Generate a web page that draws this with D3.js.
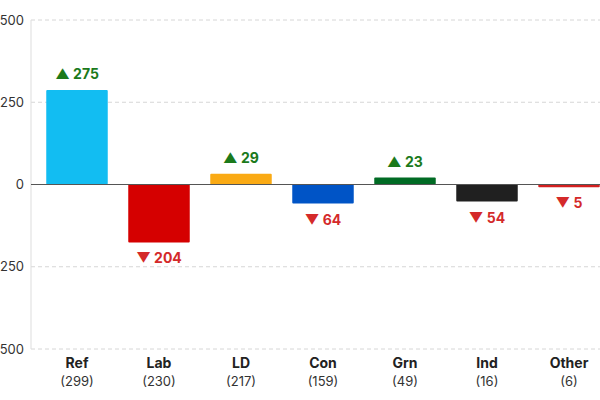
<!DOCTYPE html>
<html><head><meta charset="utf-8">
<script src="https://cdn.jsdelivr.net/npm/d3@7"></script>
<style>body{margin:0;background:#fff}svg{font-family:Inter,"Noto Sans",sans-serif}</style>
</head><body><svg id="c" width="600" height="400"></svg>
<script>
const categories=["Ref","Lab","LD","Con","Grn","Ind","Other"];
const seats=[299,230,217,159,49,16,6];
const barValues=[287,-176,33,-58,21,-52,-8];
const changes=[275,-204,29,-64,23,-54,-5];
const colors=["#12BDF2","#D50000","#FAAA14","#0054C6","#006B24","#202020","#D32020"];
const yTicks=[-500,-250,0,250,500];

const svg=d3.select("#c");
const m={l:31,t:20,b:51};
const W=600,H=400;
const x=d3.scaleBand().domain(categories).range([36,610]).paddingInner(0.25).paddingOuter(0.125);
const y=d3.scaleLinear().domain([-500,500]).range([H-m.b,m.t]);

svg.append("g").selectAll("line").data(yTicks.filter(d=>d!==0)).join("line")
 .attr("x1",m.l).attr("x2",W).attr("y1",d=>y(d)).attr("y2",d=>y(d))
 .attr("stroke","#d6d6d6").attr("stroke-dasharray","4,3");
svg.append("line").attr("x1",m.l).attr("x2",m.l).attr("y1",m.t).attr("y2",y(-500)).attr("stroke","#ddd");
svg.append("g").selectAll("text").data(yTicks).join("text")
 .attr("x",24).attr("y",d=>y(d)).attr("dy","0.35em").attr("text-anchor","end")
 .attr("font-size",13).attr("fill","#333").text(d=>Math.abs(d));

svg.append("g").selectAll("rect").data(categories).join("rect")
 .attr("x",d=>x(d)).attr("width",x.bandwidth())
 .attr("y",(d,i)=>y(Math.max(0,barValues[i]))).attr("height",(d,i)=>Math.abs(y(barValues[i])-y(0)))
 .attr("fill",(d,i)=>colors[i]).attr("rx",1);

svg.append("line").attr("x1",m.l).attr("x2",W).attr("y1",y(0)).attr("y2",y(0)).attr("stroke","#555").attr("stroke-width",1.2);

svg.append("g").selectAll("text").data(categories).join("text")
 .attr("x",d=>x(d)+x.bandwidth()/2)
 .attr("y",(d,i)=>barValues[i]>=0?y(barValues[i])-11:y(barValues[i])+21)
 .attr("text-anchor","middle").attr("font-size",14).attr("font-weight","bold")
 .attr("fill",(d,i)=>changes[i]>=0?"#1B7A1B":"#D42A2A")
 .text((d,i)=>(changes[i]>=0?"\u25B2 ":"\u25BC ")+Math.abs(changes[i]));

const lab=svg.append("g").selectAll("g").data(categories).join("g");
lab.append("text").attr("x",d=>Math.min(x(d)+x.bandwidth()/2,W-22)).attr("y",368).attr("text-anchor","middle")
 .attr("font-size",14).attr("font-weight","bold").attr("fill","#222").text(d=>d);
lab.append("text").attr("x",d=>Math.min(x(d)+x.bandwidth()/2,W-22)).attr("y",386).attr("text-anchor","middle")
 .attr("font-size",13).attr("fill","#333").text((d,i)=>"("+seats[i]+")");
</script></body></html>
